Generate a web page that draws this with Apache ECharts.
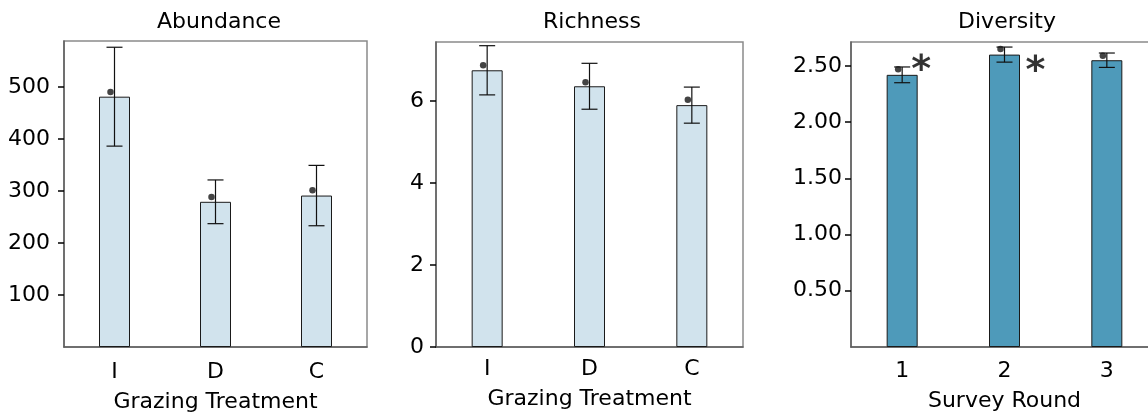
<!DOCTYPE html>
<html>
<head>
<meta charset="utf-8">
<script src="https://cdn.jsdelivr.net/npm/echarts@6/dist/echarts.min.js"></script>
<style>
  html, body { margin: 0; padding: 0; background: #ffffff; }
  #chart { width: 1148px; height: 415px; }
</style>
</head>
<body>
<div id="chart"></div>
<script>
// Grazing treatments (abundance, richness) and survey rounds (diversity)
const treatments = ['I', 'D', 'C'];
const abundanceMean = [481, 279, 291];
const abundanceSE = [95, 42, 58];
const abundancePoint = [490, 288, 301];

const richnessMean = [6.75, 6.36, 5.90];
const richnessSE = [0.60, 0.56, 0.44];
const richnessPoint = [6.87, 6.46, 6.03];

const rounds = ['1', '2', '3'];
const diversityMean = [2.42, 2.60, 2.55];
const diversitySE = [0.07, 0.067, 0.064];
const diversityPoint = [2.47, 2.65, 2.59];

// rounds flagged as significant, and the height of each flag
const sigRounds = ['1', '2'];
const sigLevel = [2.53, 2.52];

const abundanceTicks = [100, 200, 300, 400, 500];
const richnessTicks = [0, 2, 4, 6];
const diversityTicks = [0.5, 1, 1.5, 2, 2.5];

const FONT = 'DejaVu Sans';
const LIGHT = '#d1e3ed';
const DARK = '#4e9aba';

const panels = [
  { title: 'Abundance', cats: treatments, mean: abundanceMean, se: abundanceSE, pt: abundancePoint,
    ticks: abundanceTicks, max: 588, fmt: v => String(v), fill: LIGHT, name: 'Grazing Treatment',
    grid: { left: 64, top: 41, width: 303, height: 306 }, titleX: 214, labelMargin: 14, nameGap: 44, yMargin: 14 },
  { title: 'Richness', cats: treatments, mean: richnessMean, se: richnessSE, pt: richnessPoint,
    ticks: richnessTicks, max: 7.44, fmt: v => String(v), fill: LIGHT, name: 'Grazing Treatment',
    grid: { left: 436, top: 42, width: 307, height: 305 }, titleX: 587, labelMargin: 11, nameGap: 41, yMargin: 12 },
  { title: 'Diversity', cats: rounds, mean: diversityMean, se: diversitySE, pt: diversityPoint,
    ticks: diversityTicks, max: 2.712, fmt: v => Number(v).toFixed(2), fill: DARK, name: 'Survey Round',
    grid: { left: 851, top: 42, width: 307, height: 305 }, titleX: 1002, labelMargin: 13, nameGap: 43, yMargin: 9 }
];

const option = {
  animation: false,
  backgroundColor: '#ffffff',
  title: [],
  grid: [],
  xAxis: [],
  yAxis: [],
  series: []
};

panels.forEach((p, k) => {
  option.title.push({
    text: p.title, left: p.titleX, top: 6, textAlign: 'center',
    textStyle: { fontFamily: FONT, fontSize: 22, fontWeight: 'normal', color: '#000' }
  });
  option.grid.push(Object.assign({
    show: true, borderColor: '#8a8a8a', borderWidth: 1.5, backgroundColor: 'transparent',
    containLabel: false, outerBoundsMode: 'none'
  }, p.grid));
  option.xAxis.push({
    type: 'category', gridIndex: k, data: p.cats, boundaryGap: true,
    axisLine: { lineStyle: { color: '#5e5e5e', width: 1.5 } },
    axisTick: { alignWithLabel: true, length: 6, lineStyle: { color: '#000', width: 2 } },
    axisLabel: { margin: p.labelMargin, fontFamily: FONT, fontSize: 22, color: '#000' },
    name: p.name, nameLocation: 'middle', nameGap: p.nameGap,
    nameTextStyle: { fontFamily: FONT, fontSize: 22, color: '#000' },
    splitLine: { show: false }
  });
  option.yAxis.push({
    type: 'value', gridIndex: k, min: 0, max: p.max,
    axisLine: { show: true, lineStyle: { color: '#5e5e5e', width: 1.5 } },
    axisTick: { show: true, length: 6, customValues: p.ticks, lineStyle: { color: '#000', width: 1.5 } },
    axisLabel: { customValues: p.ticks, formatter: p.fmt, margin: p.yMargin, padding: [0, 0, 5, 0],
                 fontFamily: FONT, fontSize: 22, color: '#000' },
    splitLine: { show: false }
  });
  option.series.push({
    type: 'bar', xAxisIndex: k, yAxisIndex: k, data: p.mean, barWidth: 31,
    itemStyle: { color: p.fill, borderColor: '#1a1a1a', borderWidth: 1 }, z: 2
  });
  option.series.push({
    type: 'custom', xAxisIndex: k, yAxisIndex: k, z: 4,
    data: p.mean.map((m, i) => [i, m - p.se[i], m + p.se[i]]),
    encode: { x: 0, y: [1, 2] },
    renderItem: (params, api) => {
      const lo = api.coord([api.value(0), api.value(1)]);
      const hi = api.coord([api.value(0), api.value(2)]);
      const half = 8;
      const st = { stroke: '#111', lineWidth: 1.2 };
      return {
        type: 'group',
        children: [
          { type: 'line', shape: { x1: hi[0], y1: hi[1], x2: lo[0], y2: lo[1] }, style: st },
          { type: 'line', shape: { x1: hi[0] - half, y1: hi[1], x2: hi[0] + half, y2: hi[1] }, style: st },
          { type: 'line', shape: { x1: lo[0] - half, y1: lo[1], x2: lo[0] + half, y2: lo[1] }, style: st }
        ]
      };
    }
  });
  option.series.push({
    type: 'scatter', xAxisIndex: k, yAxisIndex: k, z: 5,
    data: p.pt.map((v, i) => [i, v]),
    symbol: 'circle', symbolSize: 6.5, symbolOffset: [-4, 0],
    itemStyle: { color: '#151515' }
  });
});

// significance flags on the diversity panel
const flagShift = [19, 31];
option.series.push({
  type: 'scatter', xAxisIndex: 2, yAxisIndex: 2, z: 6,
  symbolSize: 0,
  data: sigRounds.map((r, i) => ({
    value: [r, sigLevel[i]],
    label: { offset: [flagShift[i], 9] }
  })),
  label: {
    show: true, position: 'inside', formatter: '*',
    fontFamily: FONT, fontWeight: 'bold', fontSize: 38, color: '#000'
  }
});

const chart = echarts.init(document.getElementById('chart'));
chart.setOption(option);
</script>
</body>
</html>
